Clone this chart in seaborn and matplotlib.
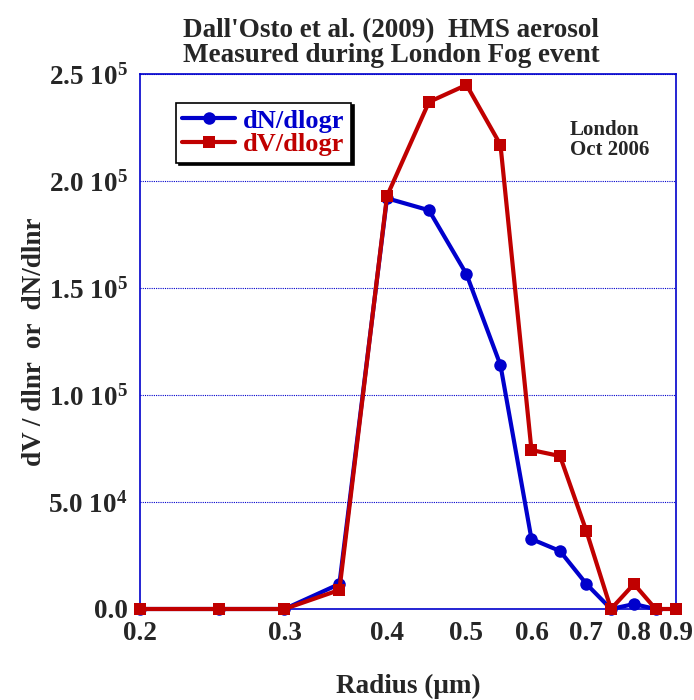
import numpy as np
import pandas as pd
import matplotlib
matplotlib.use("Agg")
import matplotlib.pyplot as plt
import seaborn as sns

radius_n = [0.2, 0.25, 0.3, 0.35, 0.4, 0.45, 0.5, 0.55, 0.6, 0.65, 0.7, 0.75, 0.8, 0.85]
dN = [0, 0, 0, 1.17e4, 1.92e5, 1.864e5, 1.565e5, 1.14e5, 3.27e4, 2.71e4, 1.17e4, 0, 2.3e3, 0]
radius_v = [0.2, 0.25, 0.3, 0.35, 0.4, 0.45, 0.5, 0.55, 0.6, 0.65, 0.7, 0.75, 0.8, 0.85, 0.9]
dV = [0, 0, 0, 8.9e3, 1.93e5, 2.37e5, 2.45e5, 2.17e5, 7.43e4, 7.15e4, 3.64e4, 0, 1.17e4, 0, 0]

xticks = [0.2, 0.3, 0.4, 0.5, 0.6, 0.7, 0.8, 0.9]
yticks = [0, 5e4, 1e5, 1.5e5, 2e5, 2.5e5]
ytick_labels = ["0.0", "5.0 10$^{4}$", "1.0 10$^{5}$", "1.5 10$^{5}$", "2.0 10$^{5}$", "2.5 10$^{5}$"]

sns.set_style("white")
plt.rcParams['font.family'] = ['Liberation Serif', 'DejaVu Serif']
plt.rcParams['font.weight'] = 'bold'
plt.rcParams['mathtext.fontset'] = 'custom'
plt.rcParams['mathtext.rm'] = 'Liberation Serif:bold'
plt.rcParams['mathtext.it'] = 'Liberation Serif:bold'
plt.rcParams['mathtext.bf'] = 'Liberation Serif:bold'

BLUE = "#0000CC"
RED = "#C00000"

fig = plt.figure(figsize=(6.94, 7.0), dpi=100)
ax = fig.add_axes([0.2017, 0.13, 0.7723, 0.764])

dfn = pd.DataFrame({"r": radius_n, "v": dN})
dfv = pd.DataFrame({"r": radius_v, "v": dV})

sns.lineplot(data=dfn, x="r", y="v", ax=ax, color=BLUE, marker="o", markersize=9,
             linewidth=3, markeredgewidth=0, label="dN/dlogr", clip_on=False, zorder=3)
sns.lineplot(data=dfv, x="r", y="v", ax=ax, color=RED, marker="s", markersize=9,
             linewidth=3, markeredgewidth=0, label="dV/dlogr", clip_on=False, zorder=4)

ax.set_xscale("log")
ax.set_xlim(0.2, 0.9)
ax.set_ylim(0, 2.5e5)
ax.set_xticks(xticks)
ax.set_xticklabels([f"{t:.1f}" for t in xticks])
ax.xaxis.set_minor_locator(matplotlib.ticker.NullLocator())
ax.set_yticks(yticks)
ax.set_yticklabels(ytick_labels)
ax.tick_params(axis="both", direction="in", length=6, width=1, color=BLUE,
               labelsize=19.5, pad=9)
for lab in ax.get_xticklabels() + ax.get_yticklabels():
    lab.set_fontweight("bold")
for s in ax.spines.values():
    s.set_color(BLUE)
    s.set_linewidth(1.2)
ax.yaxis.grid(True, color=BLUE, linestyle=(0, (1, 1)), linewidth=0.8)
ax.xaxis.grid(False)

ax.set_xlabel("Radius (\u03bcm)", fontsize=19.5, fontweight="bold", labelpad=20)
ax.set_ylabel("dV / dlnr  or  dN/dlnr", fontsize=19.5, fontweight="bold", labelpad=1)
ax.set_title("Dall'Osto et al. (2009)  HMS aerosol\nMeasured during London Fog event",
             fontsize=19.5, fontweight="bold", linespacing=1.0, pad=9, x=0.468)

leg = ax.legend(loc="upper left", bbox_to_anchor=(0.067, 0.947), frameon=True, fancybox=False,
                shadow={"color": "black", "alpha": 1}, fontsize=19, handlelength=2.0,
                borderpad=0.25, labelspacing=0.0, handletextpad=0.3, borderaxespad=0)
leg.get_frame().set_edgecolor("black")
leg.get_frame().set_linewidth(1.2)
for t, c in zip(leg.get_texts(), [BLUE, RED]):
    t.set_color(c)
    t.set_fontweight("bold")

ax.text(0.802, 0.915, "London\nOct 2006", transform=ax.transAxes, fontsize=15,
        fontweight="bold", va="top", ha="left", linespacing=1.0)

fig.savefig("out.png", dpi=100)
